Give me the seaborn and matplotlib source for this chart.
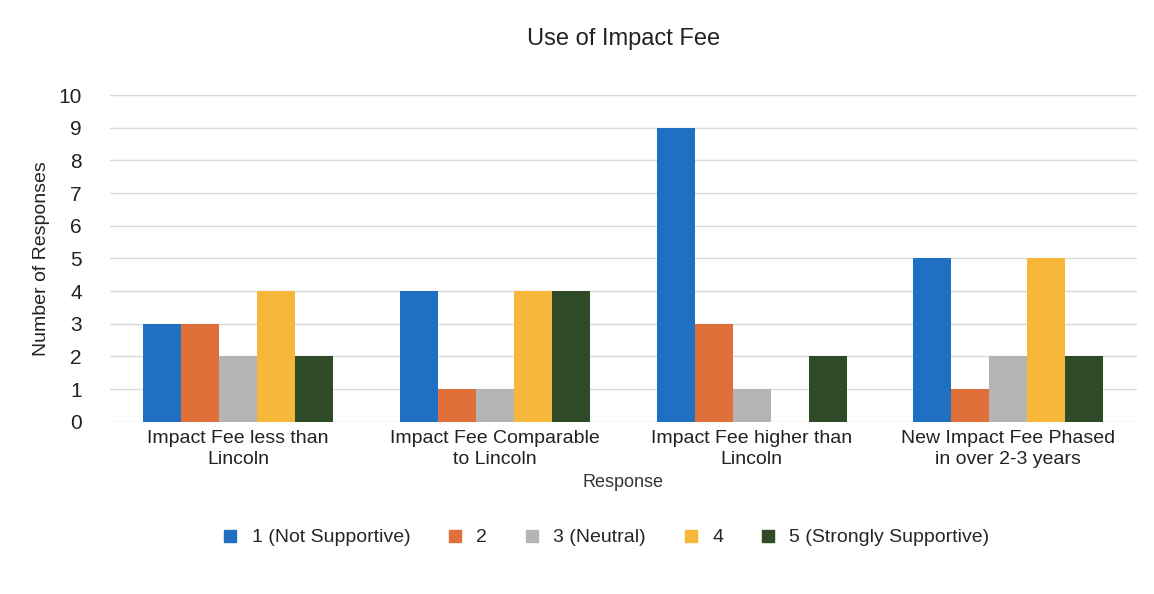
import pandas as pd
import matplotlib.pyplot as plt
import seaborn as sns

# Dados
categorias = [
    "Impact Fee less than\nLincoln",
    "Impact Fee Comparable\nto Lincoln",
    "Impact Fee higher than\nLincoln",
    "New Impact Fee Phased\nin over 2-3 years",
]
niveis = ["1 (Not Supportive)", "2", "3 (Neutral)", "4", "5 (Strongly Supportive)"]

nivel_1 = [3, 4, 9, 5]
nivel_2 = [3, 1, 3, 1]
nivel_3 = [2, 1, 1, 2]
nivel_4 = [4, 4, 0, 5]
nivel_5 = [2, 4, 2, 2]

cores = ["#1f6fc2", "#e0703a", "#b4b4b4", "#f5b83a", "#2f4a27"]

# Montar tabela longa
valores = [nivel_1, nivel_2, nivel_3, nivel_4, nivel_5]
linhas = []
for nivel, serie in zip(niveis, valores):
    for cat, v in zip(categorias, serie):
        linhas.append({"Response": cat, "Nivel": nivel, "Qtd": v})
df = pd.DataFrame(linhas)

sns.set_theme(style="white")
plt.rcParams["font.family"] = ["Liberation Sans", "DejaVu Sans"]

fig = plt.figure(figsize=(11.54, 5.94), dpi=100)
ax = fig.add_axes([0.095, 0.29, 0.89, 0.55])

sns.barplot(data=df, x="Response", y="Qtd", hue="Nivel", hue_order=niveis,
            order=categorias, palette=cores, width=0.74, gap=0,
            saturation=1, linewidth=0, ax=ax, legend=False)

ax.set_ylim(0, 10)
ax.set_yticks(range(0, 11))
ax.yaxis.grid(True, color="#d9d9d9", linewidth=1)
ax.set_axisbelow(True)
for s in ax.spines.values():
    s.set_visible(False)
ax.tick_params(axis="y", length=0, labelsize=15, colors="#222222", pad=20)
ax.tick_params(axis="x", length=0, labelsize=14, colors="#222222", pad=6)
for t in ax.get_xticklabels():
    t.set_linespacing(1.3)
ax.set_xlabel("Response", fontsize=13, color="#333333", labelpad=4)
ax.set_ylabel("Number of Responses", fontsize=14, color="#222222", labelpad=6)
ax.set_title("Use of Impact Fee", fontsize=17, color="#222222", pad=36)

# Legenda com quadrados
handles = [plt.Line2D([], [], marker="s", linestyle="", markersize=9,
                      color=c) for c in cores]
fig.legend(handles, niveis, loc="center", bbox_to_anchor=(0.52, 0.095),
           ncol=5, frameon=False, fontsize=14, handletextpad=0.1,
           columnspacing=1.3)

fig.savefig("out.png", dpi=100)
